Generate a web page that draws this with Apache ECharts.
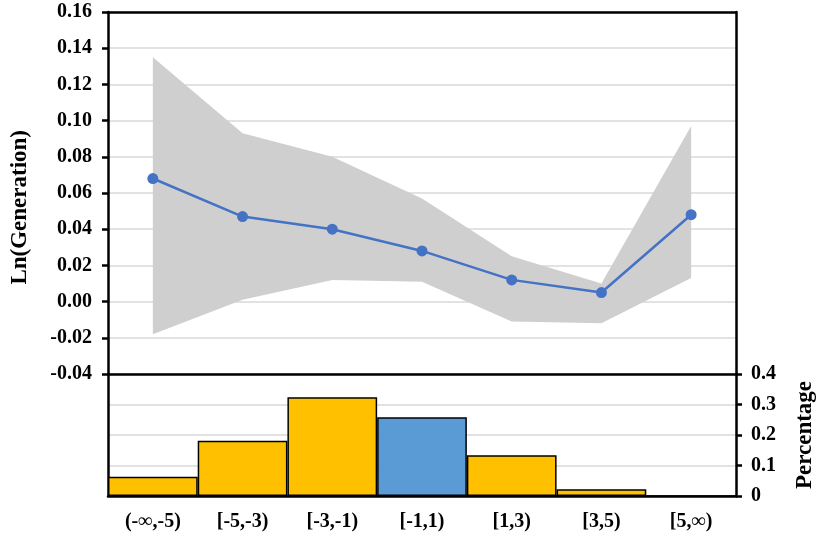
<!DOCTYPE html>
<html>
<head>
<meta charset="utf-8">
<script src="https://cdn.jsdelivr.net/npm/echarts@6/dist/echarts.min.js"></script>
<style>
  html, body { margin: 0; padding: 0; background: #fff; }
  #chart { width: 817px; height: 538px; }
</style>
</head>
<body>
<div id="chart"></div>
<script>
// Interval bins of the shock variable
const categories = ['(-\u221e,-5)', '[-5,-3)', '[-3,-1)', '[-1,1)', '[1,3)', '[3,5)', '[5,\u221e)'];
// Point estimates of Ln(Generation) per bin
const lnGeneration = [0.068, 0.047, 0.040, 0.028, 0.012, 0.005, 0.048];
// Confidence band bounds
const ciUpper = [0.135, 0.093, 0.080, 0.057, 0.025, 0.010, 0.097];
const ciLower = [-0.018, 0.001, 0.012, 0.011, -0.011, -0.012, 0.013];
// Share of observations in each bin
const percentage = [0.063, 0.181, 0.324, 0.258, 0.134, 0.022, 0];
// Reference bin drawn in a different colour
const referenceBin = 3;

const ciWidth = ciUpper.map((u, i) => +(u - ciLower[i]).toFixed(4));

const FONT = '"Liberation Serif", "Times New Roman", serif';
const AXIS_BLACK = { show: true, onZero: false, lineStyle: { color: '#000', width: 2.5 } };
const GRID_LINE = { show: true, lineStyle: { color: '#d9d9d9', width: 1.5 } };
const TICK_OUT = { show: true, inside: false, length: 6, lineStyle: { color: '#000', width: 2.5 } };
const labelStyle = { fontFamily: FONT, fontWeight: 'bold', fontSize: 20, color: '#000' };
// Frame-only axis: draws a black edge of a plot box, nothing else
const frameAxis = (extra) => Object.assign({
  axisLine: AXIS_BLACK, axisTick: { show: false }, axisLabel: { show: false }, splitLine: { show: false }
}, extra);

const chart = echarts.init(document.getElementById('chart'), null, { renderer: 'canvas' });

chart.setOption({
  animation: false,
  backgroundColor: '#fff',
  grid: [
    { left: 108, right: 81, top: 12, height: 362, outerBoundsMode: 'none' },
    { left: 108, right: 81, top: 374, height: 122, outerBoundsMode: 'none' }
  ],
  xAxis: [
    frameAxis({ type: 'category', gridIndex: 0, data: categories, boundaryGap: true }),
    {
      type: 'category', gridIndex: 1, data: categories, boundaryGap: true,
      axisLine: AXIS_BLACK, axisTick: { show: false },
      axisLabel: Object.assign({ margin: 16, interval: 0 }, labelStyle),
      splitLine: { show: false }
    },
    frameAxis({ type: 'category', gridIndex: 0, position: 'top', data: categories })
  ],
  yAxis: [
    {
      type: 'value', gridIndex: 0, min: -0.04, max: 0.16, interval: 0.02,
      axisLine: AXIS_BLACK, axisTick: TICK_OUT,
      axisLabel: Object.assign({ margin: 16, formatter: v => v.toFixed(2) }, labelStyle),
      splitLine: GRID_LINE
    },
    {
      type: 'value', gridIndex: 1, position: 'right', min: 0, max: 0.4, interval: 0.1,
      name: 'Percentage', nameLocation: 'middle', nameGap: 58, nameRotate: 90,
      nameTextStyle: { fontFamily: FONT, fontWeight: 'bold', fontSize: 23, color: '#000' },
      axisLine: AXIS_BLACK, axisTick: TICK_OUT,
      axisLabel: Object.assign({ margin: 15, formatter: v => (v === 0 ? '0' : v.toFixed(1)) }, labelStyle),
      splitLine: GRID_LINE
    },
    frameAxis({ type: 'value', gridIndex: 0, position: 'right', min: -0.04, max: 0.16 }),
    frameAxis({ type: 'value', gridIndex: 1, position: 'left', min: 0, max: 0.4 })
  ],
  graphic: [
    {
      type: 'text', left: 9, top: 130, rotation: Math.PI / 2,
      style: { text: 'Ln(Generation)', font: 'bold 23px ' + FONT, fill: '#000' }
    }
  ],
  series: [
    {
      name: 'CI lower', type: 'line', xAxisIndex: 0, yAxisIndex: 0,
      data: ciLower, stack: 'ci', stackStrategy: 'all',
      symbol: 'none', lineStyle: { opacity: 0 }, silent: true, z: 1
    },
    {
      name: 'CI band', type: 'line', xAxisIndex: 0, yAxisIndex: 0,
      data: ciWidth, stack: 'ci', stackStrategy: 'all',
      symbol: 'none', lineStyle: { opacity: 0 },
      areaStyle: { color: '#d0cfd0', opacity: 1 }, silent: true, z: 1
    },
    {
      name: 'Ln(Generation)', type: 'line', xAxisIndex: 0, yAxisIndex: 0,
      data: lnGeneration, symbol: 'circle', symbolSize: 11,
      itemStyle: { color: '#4472c4' }, lineStyle: { color: '#4472c4', width: 2.5 }, z: 3
    },
    {
      name: 'Percentage', type: 'bar', xAxisIndex: 1, yAxisIndex: 1,
      barCategoryGap: 0, barGap: 0,
      data: percentage.map((v, i) => ({
        value: v,
        itemStyle: { color: i === referenceBin ? '#5b9bd5' : '#ffc000' }
      })),
      itemStyle: { borderColor: '#000', borderWidth: 1.5 }
    }
  ]
});
</script>
</body>
</html>
